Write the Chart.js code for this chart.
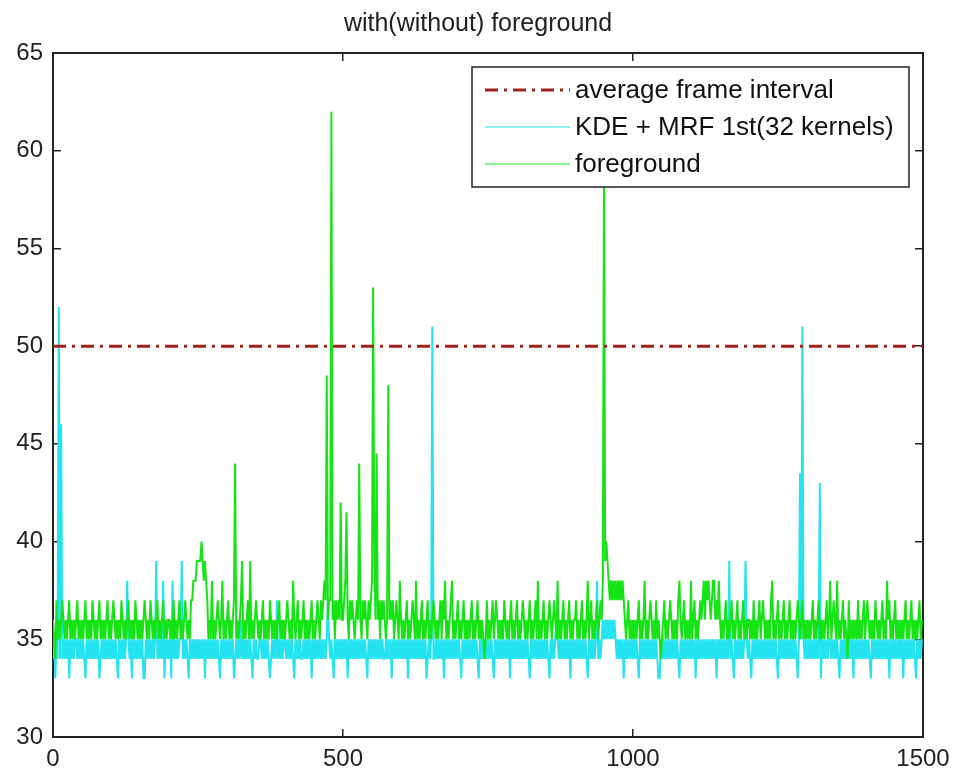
<!DOCTYPE html>
<html>
<head>
<meta charset="utf-8">
<title>with(without) foreground</title>
<script src="https://cdn.jsdelivr.net/npm/chart.js@4.4.1/dist/chart.umd.min.js"></script>
<style>
  html, body { margin: 0; padding: 0; background: #fff; }
  canvas { display: block; }
</style>
</head>
<body>
<canvas id="intervalChart" width="956" height="774"></canvas>
<script>
// Frame interval traces: one digit per two frames, value = 30 + digit
var FRAME_STEP = 2;

var kdeTrace = [
    '45354545454545354545545454543545454545453454545454',
    '54545435454545854535454545453354545454594545483545',
    '45384545455945454354545454545453545454545454354545',
    '45454534545464545454543545445545454543454547454545',
    '54545454354545445454545354545454545457545435454545',
    '45453545454545454545435454545454545445454535454545',
    '45454535454545454545453454584454545453545454545454',
    '54354545454545454354545454545435454545454545354545',
    '45454545454354545454545454543545456545454545453545',
    '45454545454354545458454565656565656545454535454545',
    '45454354545454545454543354545454545454543545454545',
    '45453545454545454545453545454545494543545454545954',
    '54354545454545454545454543545454545454545435454545',
    '45454545454535454545545454543545454545453545454545',
    '45454354545454545454535454545454535454545454354545'
];

var fgTrace = [
    '65475656765656756565675656567565657656567565656756',
    '56765656576565675656576565656765657656567565675656',
    '65657565675656765657788899999989875658565676568565',
    '67565679565679565675956567656567565657656565675656',
    '56765658656756567565656756567657678796778675767686',
    '67876576765676865767657678796867576765686767567658',
    '65656756567658565675656756567656567576856567856567',
    '56567565656756567565654575656756765656576565675656',
    '75656765656756567585656756567656765856567565675656',
    '67565675656856756567567689999878787878787876567565',
    '65656756568565676565756545675656765656578656756565',
    '85675656767868787678867686565675656756567565675656',
    '65657565675676565657856567565675656756565676567565',
    '65656756567565656756856765856567565475656565756567',
    '56765656576565675658675656756565656756567565656756'
];

// single frames that rise above the digit range: [frame, interval]
var kdePeaks = [[10, 52], [14, 46], [654, 51], [1288, 43.5], [1292, 51], [1322, 43]];
var fgPeaks = [[256, 40], [314, 44], [472, 48.5], [480, 62], [496, 42], [506, 41.5],
               [528, 44], [552, 53], [558, 44.5], [578, 48], [950, 59], [954, 40]];

var avgInterval = 50;
var frameRange = [0, 1500];
var intervalRange = [30, 65];

function buildSeries(trace, peaks) {
    var pts = trace.join('').split('').map(function (c, i) {
        return { x: i * FRAME_STEP, y: 30 + Number(c) };
    });
    peaks.forEach(function (p) { pts[p[0] / FRAME_STEP].y = p[1]; });
    return pts;
}

var axisColor = '#222222';
var tickFont = { family: "'Liberation Sans', Arial, sans-serif", size: 24 };

// boxed legend in the upper right of the plot
var legendBox = {
    id: 'legendBox',
    afterDraw: function (chart) {
        var ctx = chart.ctx, area = chart.chartArea;
        var w = 437, h = 120;
        var left = area.right - 14 - w, top = area.top + 14;
        ctx.save();
        ctx.fillStyle = '#ffffff';
        ctx.fillRect(left, top, w, h);
        ctx.strokeStyle = axisColor;
        ctx.lineWidth = 1.5;
        ctx.strokeRect(left, top, w, h);
        ctx.font = "26px 'Liberation Sans', Arial, sans-serif";
        ctx.textBaseline = 'middle';
        ctx.fillStyle = '#111111';
        chart.data.datasets.forEach(function (ds, i) {
            var y = top + 23 + i * 37;
            ctx.beginPath();
            ctx.strokeStyle = ds.borderColor;
            ctx.lineWidth = ds.dashed ? ds.borderWidth : 1;
            ctx.setLineDash(ds.borderDash || []);
            ctx.moveTo(left + 13, y);
            ctx.lineTo(left + 98, y);
            ctx.stroke();
            ctx.setLineDash([]);
            ctx.fillText(ds.label, left + 103, y + 1);
        });
        ctx.restore();
    }
};

function frameAxis(position, height, showLabels) {
    return {
        type: 'linear',
        position: position,
        min: frameRange[0],
        max: frameRange[1],
        ticks: {
            stepSize: 500, display: showLabels, font: tickFont, color: axisColor, padding: 16, maxRotation: 0,
            callback: function (v) { return String(v); }
        },
        grid: { drawOnChartArea: false, drawTicks: true, tickLength: -8, color: axisColor, lineWidth: 1.5 },
        border: { display: true, color: axisColor, width: 2 },
        afterFit: function (s) {
            s.height = height;
            // end labels may hang past the frame
            s.paddingLeft = 0;
            s.paddingRight = 0;
        }
    };
}

function intervalAxis(position, width, showLabels) {
    return {
        type: 'linear',
        position: position,
        min: intervalRange[0],
        max: intervalRange[1],
        ticks: { stepSize: 5, display: showLabels, font: tickFont, color: axisColor, padding: 18 },
        grid: { drawOnChartArea: false, drawTicks: true, tickLength: -8, color: axisColor, lineWidth: 1.5 },
        border: { display: true, color: axisColor, width: 2 },
        afterFit: function (s) { s.width = width; }
    };
}

var ctx = document.getElementById('intervalChart').getContext('2d');
var intervalChart = new Chart(ctx, {
    type: 'line',
    data: {
        datasets: [{
            label: 'average frame interval',
            data: [{ x: frameRange[0], y: avgInterval }, { x: frameRange[1], y: avgInterval }],
            borderColor: '#a3201c',
            borderWidth: 3,
            borderDash: [13, 6, 3, 6],
            dashed: true,
            order: 0
        }, {
            label: 'KDE + MRF 1st(32 kernels)',
            data: buildSeries(kdeTrace, kdePeaks),
            borderColor: '#22e3ef',
            borderWidth: 2,
            order: 2
        }, {
            label: 'foreground',
            data: buildSeries(fgTrace, fgPeaks),
            borderColor: '#16e316',
            borderWidth: 2,
            order: 1
        }]
    },
    options: {
        responsive: false,
        animation: false,
        layout: { padding: 0 },
        elements: { point: { radius: 0 }, line: { tension: 0 } },
        scales: {
            x: frameAxis('bottom', 37, true),
            x2: frameAxis('top', 10, false),
            y: intervalAxis('left', 53, true),
            y2: intervalAxis('right', 33, false)
        },
        plugins: {
            legend: { display: false },
            tooltip: { enabled: false },
            title: {
                display: true,
                text: 'with(without) foreground',
                color: axisColor,
                font: { family: "'Liberation Sans', Arial, sans-serif", size: 25, weight: 'normal' },
                padding: { top: 9, bottom: 4 }
            }
        }
    },
    plugins: [legendBox]
});
</script>
</body>
</html>
